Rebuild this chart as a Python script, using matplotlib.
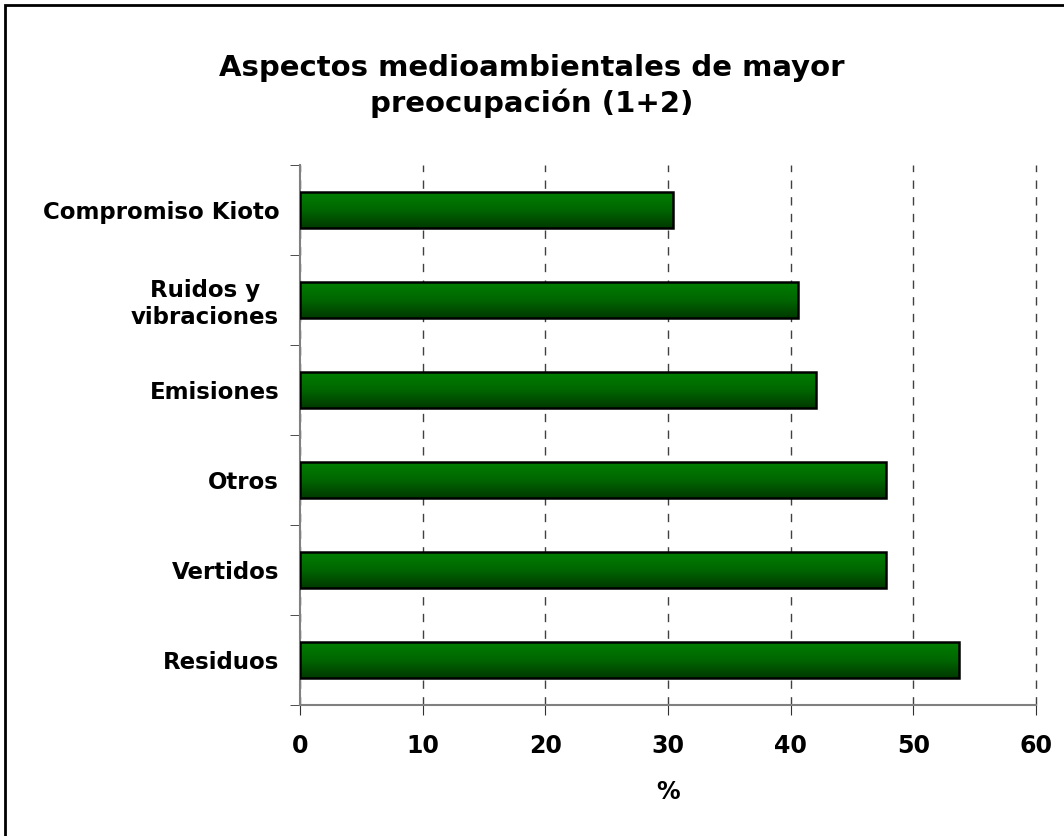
import numpy as np
import matplotlib.pyplot as plt
from matplotlib.colors import LinearSegmentedColormap
from matplotlib.patches import Rectangle

categorias = ['Residuos', 'Vertidos', 'Otros', 'Emisiones', 'Ruidos y\nvibraciones', 'Compromiso Kioto']
valores = [53.7, 47.8, 47.8, 42.1, 40.6, 30.4]
xticks = [0, 10, 20, 30, 40, 50, 60]

plt.rcParams['font.family'] = ['DejaVu Sans']
plt.rcParams['font.weight'] = 'bold'

fig = plt.figure(figsize=(10.64, 8.36), dpi=100)
ax = fig.add_axes([300/1064, 1 - 705/836, 736/1064, 540/836])

# marco exterior
fig.patches.append(Rectangle((5/1064, -0.01), 1.02, 1 - 5/836 + 0.01, transform=fig.transFigure,
                             fill=False, edgecolor='black', linewidth=2))

y = np.arange(len(categorias))
bars = ax.barh(y, valores, height=0.4, color='none', edgecolor='black', linewidth=1.8, zorder=3)

cmap = LinearSegmentedColormap.from_list('verde', ['#007f00', '#006600', '#003a00'])
grad = np.linspace(0, 1, 100).reshape(-1, 1)
for b in bars:
    x0, y0 = b.get_x(), b.get_y()
    w, h = b.get_width(), b.get_height()
    im = ax.imshow(grad, cmap=cmap, aspect='auto', extent=(x0, x0 + w, y0, y0 + h),
                   origin='upper', zorder=2)
    im.set_clip_path(b)

ax.set_xlim(0, 60)
ax.set_ylim(-0.5, len(categorias) - 0.5)
ax.set_xticks(xticks)
ax.set_xticklabels([str(t) for t in xticks], fontsize=17, fontweight='bold')
ax.set_yticks(y)
ax.set_yticklabels(categorias, fontsize=16.5, fontweight='bold', multialignment='center')
ax.set_yticks(np.arange(-0.5, len(categorias), 1), minor=True)
ax.tick_params(axis='y', which='major', length=0, pad=15)
ax.tick_params(axis='y', which='minor', length=7, color='#303030', direction='out')
ax.tick_params(axis='x', which='major', length=7, color='#303030', direction='out', pad=14)

ax.xaxis.grid(True, linestyle=(0, (6, 6)), color='#404040', linewidth=1, zorder=0)
for gl in ax.get_xgridlines():
    gl.set_clip_on(False)
ax.set_axisbelow(True)
for s in ['top', 'right']:
    ax.spines[s].set_visible(False)
for s in ['left', 'bottom']:
    ax.spines[s].set_color('#808080')
    ax.spines[s].set_linewidth(1.5)

ax.set_xlabel('%', fontsize=17, fontweight='bold', labelpad=16)
fig.text(0.5, 1 - 86/836, 'Aspectos medioambientales de mayor\npreocupación (1+2)',
         ha='center', va='center', fontsize=21, fontweight='bold', linespacing=1.3)

fig.savefig('out.png', dpi=100)
